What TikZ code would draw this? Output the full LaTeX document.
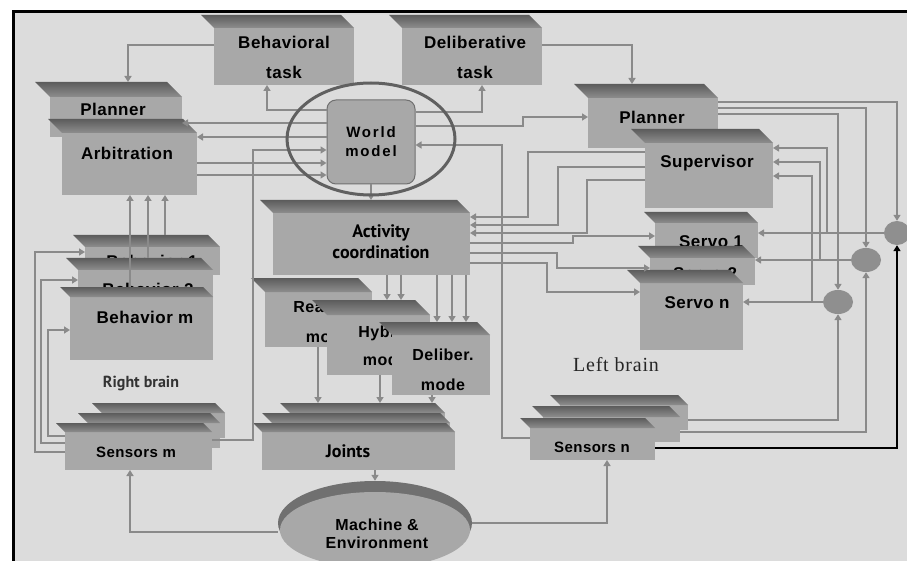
\documentclass[tikz,border=0pt]{standalone}
\usepackage{fontspec}
\setmainfont{Liberation Sans}
\newfontfamily\labf[LetterSpace=3]{Liberation Sans}
\newfontfamily\wmf[LetterSpace=12]{Liberation Sans}
\newfontfamily\ptf{PT Sans}
\newfontfamily\serf[LetterSpace=4]{Liberation Serif}
\usetikzlibrary{arrows.meta,calc,shapes.geometric}
\definecolor{bgc}{HTML}{DCDCDC}
\definecolor{boxc}{HTML}{A8A8A8}
\definecolor{bevtop}{HTML}{5C5C5C}
\definecolor{bevbot}{HTML}{8E8E8E}
\definecolor{bevc}{HTML}{707070}
\definecolor{linec}{HTML}{8A8A8A}
\definecolor{ellc}{HTML}{606060}
\tikzset{
  bodybox/.style={fill=boxc, draw=none, inner sep=0pt, outer sep=0pt},
  boxtext/.style={font=\labf\bfseries\fontsize{17}{20}\selectfont, align=center, inner sep=0pt},
  mtext/.style={font=\labf\bfseries\fontsize{16}{20}\selectfont, align=center, inner sep=0pt},
  ptext/.style={font=\ptf\bfseries\fontsize{18}{21}\selectfont, align=center, inner sep=0pt},
  pipe/.style={draw=linec, line width=1.6pt},
  blk/.style={draw=black, line width=1.6pt},
  arr/.style={-{Triangle[length=6pt,width=7pt]}},
  sumc/.style={ellipse, fill=boxc!85!black, draw=none, inner sep=0pt},
}
\newcommand\tdbox[6]{%
  \node[bodybox, anchor=north west, minimum width=#4pt, minimum height=#5pt] (#1) at (#2,#3) {};
  \shade[top color=bevtop, bottom color=bevbot] (#1.north west) -- (#1.north east) -- ++(-#6,-#6) -- ($(#1.north west)+(-#6,-#6)$) -- cycle;
  \coordinate (#1-t) at ($(#1.north)+(-#6/2,-#6)$);
}
\begin{document}
\begin{tikzpicture}[x=1pt,y=-1pt]
\useasboundingbox (0,0) rectangle (907,561);
\fill[white] (0,0) rectangle (907,561);
\fill[bgc] (13,10) rectangle (907,561);
\draw[line width=3pt] (13.5,561) |- (907,11.5);

% tasks
\tdbox{btask}{214}{28}{140}{57}{13}
\node[boxtext] (btask-txt) at (284,57) {Behavioral\\[10pt]task};
\tdbox{dtask}{402}{28}{140}{57}{13}
\node[boxtext] (dtask-txt) at (475,57) {Deliberative\\[10pt]task};

% left planner stack
\tdbox{plL}{50}{97}{132}{40}{15}
\node[boxtext] (plL-txt) at (113,109) {Planner};
\tdbox{arb}{62}{133}{135}{62}{14}
\node[boxtext] (arb-txt) at (127,153) {Arbitration};

% right planner stack
\tdbox{plR}{588}{98}{130}{50}{14}
\node[boxtext] (plR-txt) at (652,117) {Planner};
\tdbox{sup}{645}{143}{128}{65}{14}
\node[boxtext] (sup-txt) at (707,163) {Supervisor};

% world model
\node[fill=boxc, draw=bevc, line width=1pt, rounded corners=9pt, minimum width=88pt, minimum height=84pt,
      font=\wmf\bfseries\fontsize{15}{19}\selectfont, align=center] (world) at (371,142) {World\\model};

% activity coordination
\tdbox{act}{273}{213}{197}{62}{13}
\node[ptext] (act-txt) at (381,242) {Activity\\coordination};

% behaviours
\tdbox{beh1}{85}{247}{135}{28}{12}
\node[boxtext] (beh1-txt) at (152,261) {Behavior 1};
\tdbox{beh2}{78}{270}{135}{30}{12}
\node[boxtext] (beh2-txt) at (148,289) {Behavior 2};
\tdbox{behm}{70}{297}{143}{63}{10}
\node[boxtext] (behm-txt) at (145,317) {Behavior m};

% modes
\tdbox{rea}{265}{292}{107}{55}{14}
\node[mtext] (rea-txt) at (328,322) {Reactive\\[10pt]mode};
\tdbox{hyb}{327}{315}{103}{60}{15}
\node[mtext] (hyb-txt) at (385,346) {Hybrid\\[8pt]mode};
\tdbox{del}{392}{335}{98}{60}{13}
\node[mtext] (del-txt) at (443,370) {Deliber.\\[10pt]mode};

% servos
\tdbox{servo1}{655}{223}{103}{35}{11}
\node[boxtext] (servo1-txt) at (711,242) {Servo 1};
\tdbox{servo2}{650}{258}{105}{27}{12}
\node[boxtext] (servo2-txt) at (705,274) {Servo 2};
\tdbox{servon}{640}{283}{103}{67}{13}
\node[boxtext] (servon-txt) at (697,303) {Servo n};

% joints
\tdbox{j1}{290}{413}{155}{25}{10}
\tdbox{j2}{272}{423}{178}{25}{10}
\tdbox{j3}{262}{432}{193}{38}{9}
\node[ptext] (j-txt) at (348,451) {Joints};

% sensors m
\tdbox{sm1}{102}{413}{123}{25}{10}
\tdbox{sm2}{88}{423}{132}{25}{10}
\tdbox{sm3}{65}{432}{147}{38}{9}
\node[boxtext, font=\labf\bfseries\fontsize{15}{18}\selectfont] (sm-txt) at (136,452) {Sensors m};

% sensors n
\tdbox{sn1}{560}{405}{128}{25}{10}
\tdbox{sn2}{543}{417}{137}{25}{11}
\tdbox{sn3}{530}{428}{125}{32}{10}
\node[boxtext, font=\labf\bfseries\fontsize{15}{18}\selectfont] (sn-txt) at (592,447) {Sensors n};

% machine & environment
\node[ellipse, fill=bevc, minimum width=194pt, minimum height=84pt, inner sep=0pt] (mach) at (375,523) {};
\fill[boxc] (375,530) ellipse [x radius=95, y radius=38];
\node[mtext, font=\labf\bfseries\fontsize{16}{18}\selectfont] (mach-txt) at (377,534) {Machine \&\\Environment};

% labels
\node[font=\ptf\bfseries\fontsize{16}{18}\selectfont, text=black!80] (rb) at (141,384) {Right brain};
\node[font=\serf\fontsize{20}{22}\selectfont, text=black!85] (lb) at (616,365) {Left brain};

% summing junctions
\node[sumc, minimum width=26pt, minimum height=24pt] (c1) at (897,233) {};
\node[sumc, minimum width=30pt, minimum height=24pt] (c2) at (866,260) {};
\node[sumc, minimum width=30pt, minimum height=24pt] (c3) at (838,302) {};
\coordinate (t1) at (827,233);
\coordinate (t2) at (820,260);
\coordinate (t3) at (812,302);

% ---------- connectors ----------
\draw[pipe,arr] (btask.west |- 0,45) -| (plL-t -| 128,0);
\draw[pipe,arr] (dtask.east |- 0,45) -| (plR-t -| 632,0);
\draw[pipe,arr] (world.west |- 0,110) -| (btask.south -| 267,0);
\draw[pipe,arr] (world.east |- 0,112) -| (dtask.south -| 482,0);
\draw[pipe,arr] (world.east |- 0,126) -| (523,117) -- (plR.west |- 0,117);
\draw[pipe,arr] (world.west |- 0,123) -- (plL.east |- 0,123);
\draw[pipe,arr] (world.west |- 0,137) -- (arb.east |- 0,137);
\draw[pipe,arr] (arb.east |- 0,163) -- (world.west |- 0,163);
\draw[pipe,arr] (arb.east |- 0,175) -- (world.west |- 0,175);
\draw[pipe,arr] (sm3.east |- 0,440) -| (253,150) -- (world.west |- 0,150);
\draw[pipe,arr] (world.south) -- (world.south |- act-t);
% activity -> modes
\draw[pipe,arr] (act.south -| 387,0) -- (hyb-t -| 387,0);
\draw[pipe,arr] (act.south -| 401,0) -- (hyb-t -| 401,0);
\draw[pipe,arr] (act.south -| 437,0) -- (del-t -| 437,0);
\draw[pipe,arr] (act.south -| 452,0) -- (del-t -| 452,0);
\draw[pipe,arr] (act.south -| 466,0) -- (del-t -| 466,0);
% modes -> joints -> machine
\draw[pipe,arr] (rea.south -| 318,0) -- (j1-t -| 318,0);
\draw[pipe,arr] (hyb.south -| 380,0) -- (j1-t -| 380,0);
\draw[pipe,arr] (del.south -| 432,0) -- (j1-t -| 432,0);
\draw[pipe,arr] (j3.south -| mach.north) -- (mach.north);
% machine -> sensors
\draw[pipe,arr] (mach.west |- 0,532) -| (sm3.south -| 130,0);
\draw[pipe,arr] (mach.east |- 0,523) -| (sn3.south -| 607,0);
% right brain loops
\draw[pipe,arr] (sm3.west |- 0,452) -| (35,252) -- (beh1.west |- 0,252);
\draw[pipe,arr] (sm3.west |- 0,443) -| (41,280) -- (beh2.west |- 0,280);
\draw[pipe,arr] (sm3.west |- 0,436) -| (48,330) -- (behm.west |- 0,330);
\draw[pipe,arr] (behm-t -| 130,0) -- (arb.south -| 130,0);
\draw[pipe,arr] (beh2-t -| 148,0) -- (arb.south -| 148,0);
\draw[pipe,arr] (beh1-t -| 165,0) -- (arb.south -| 165,0);
% left brain
\draw[pipe,arr] (sn3.west |- 0,438) -| (502,145) -- (world.east |- 0,145);
\draw[pipe,arr] (sup.west |- 0,152) -| (528,217) -- (act.east |- 0,217);
\draw[pipe,arr] (sup.west |- 0,167) -| (558,225) -- (act.east |- 0,225);
\draw[pipe,arr] (sup.west |- 0,180) -| (587,233) -- (act.east |- 0,233);
\draw[pipe,arr] (act.east |- 0,243) -| (573,236) -- (servo1.west |- 0,236);
\draw[pipe,arr] (act.east |- 0,253) -| (557,268) -- (servo2.west |- 0,268);
\draw[pipe,arr] (act.east |- 0,263) -| (547,292) -- (servon.west |- 0,292);
% planner -> summing junctions -> servos
\draw[pipe,arr] (plR.east |- 0,102) -| (c1.north);
\draw[pipe,arr] (plR.east |- 0,108) -| (c2.north);
\draw[pipe,arr] (plR.east |- 0,114) -| (c3.north);
\draw[pipe,arr] (sn1.east |- 0,420) -| (c3.south);
\draw[pipe,arr] (sn2.east |- 0,432) -| (c2.south);
\draw[blk,arr] (sn3.east |- 0,448) -| (c1.south);
\draw[pipe,arr] (c1.west) -- (servo1.east |- c1.west);
\draw[pipe,arr] (c2.west) -- (servo2.east |- c2.west);
\draw[pipe,arr] (c3.west) -- (servon.east |- c3.west);
\draw[pipe,arr] (t1) |- (sup.east |- 0,148);
\draw[pipe,arr] (t2) |- (sup.east |- 0,162);
\draw[pipe,arr] (t3) |- (sup.east |- 0,176);

% ring round the world model
\node[ellipse, draw=ellc, line width=3pt, minimum width=168pt, minimum height=112pt, inner sep=0pt] (ring) at (371,139) {};
\end{tikzpicture}
\end{document}
